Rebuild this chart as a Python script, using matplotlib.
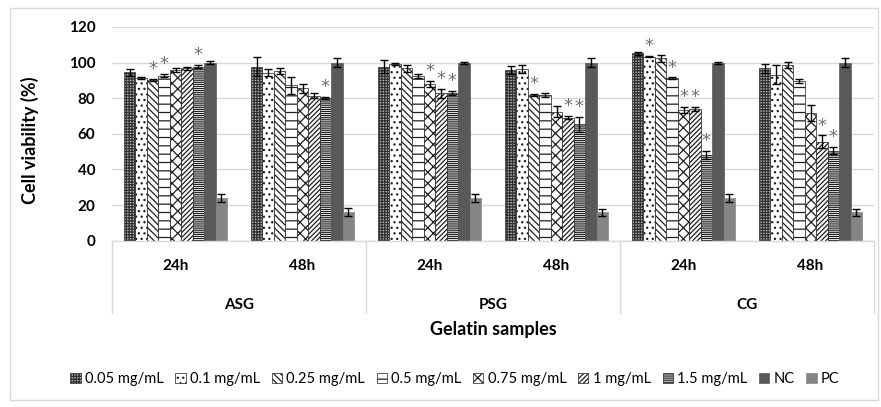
import matplotlib
matplotlib.use("Agg")
import matplotlib.pyplot as plt
import numpy as np
from matplotlib.patches import Rectangle

plt.rcParams['font.family'] = ['Lato', 'DejaVu Sans']
plt.rcParams['hatch.linewidth'] = 0.9

samples = ["ASG", "PSG", "CG"]
times = ["24h", "48h"]
series = ["0.05 mg/mL", "0.1 mg/mL", "0.25 mg/mL", "0.5 mg/mL", "0.75 mg/mL",
          "1 mg/mL", "1.5 mg/mL", "NC", "PC"]

# values per group (ASG24, ASG48, PSG24, PSG48, CG24, CG48), one list per series
v005 = [94.5, 97.8, 97.8, 95.9, 105.3, 96.8]
v01 = [91.2, 94.4, 99.1, 96.3, 103.4, 93.1]
v025 = [90.3, 95.3, 96.8, 81.9, 102.4, 98.7]
v05 = [92.7, 87.3, 92.5, 81.9, 91.2, 89.7]
v075 = [95.9, 85.5, 88.0, 72.5, 73.4, 71.6]
v1 = [96.8, 81.5, 82.8, 69.1, 73.8, 55.6]
v15 = [97.8, 80.0, 83.0, 65.4, 48.1, 50.6]
vNC = [100.0, 100.0, 100.0, 100.0, 100.0, 100.0]
vPC = [24.0, 16.0, 24.0, 16.0, 24.0, 16.0]

e005 = [1.9, 5.4, 3.4, 2.4, 0.8, 2.6]
e01 = [0.5, 2.0, 0.6, 2.3, 0.5, 5.3]
e025 = [0.5, 1.9, 2.0, 0.5, 1.8, 1.5]
e05 = [0.7, 4.7, 1.0, 1.0, 0.5, 1.0]
e075 = [1.2, 2.5, 1.5, 3.2, 1.8, 4.4]
e1 = [1.0, 1.5, 2.5, 1.0, 1.2, 3.5]
e15 = [0.8, 0.5, 1.0, 4.1, 2.4, 1.9]
eNC = [0.8, 2.6, 0.6, 2.6, 0.6, 2.6]
ePC = [2.0, 2.2, 2.0, 2.0, 2.0, 2.0]

# significance flags (1 = asterisk)
s005 = [0, 0, 0, 0, 0, 0]
s01 = [0, 0, 0, 0, 1, 0]
s025 = [1, 0, 0, 1, 0, 0]
s05 = [1, 0, 0, 0, 1, 0]
s075 = [0, 0, 1, 0, 1, 0]
s1 = [0, 0, 1, 1, 1, 1]
s15 = [1, 1, 1, 1, 1, 1]
sNC = [0] * 6
sPC = [0] * 6

values = [v005, v01, v025, v05, v075, v1, v15, vNC, vPC]
errors = [e005, e01, e025, e05, e075, e1, e15, eNC, ePC]
stars = [s005, s01, s025, s05, s075, s1, s15, sNC, sPC]

styles = [
    dict(facecolor="#b4b4b4", hatch="++++++", edgecolor="#303030"),
    dict(facecolor="white", hatch="...", edgecolor="#202020"),
    dict(facecolor="white", hatch="\\\\\\\\\\", edgecolor="#202020"),
    dict(facecolor="white", hatch="--", edgecolor="#202020"),
    dict(facecolor="white", hatch="xxx", edgecolor="#202020"),
    dict(facecolor="white", hatch="///////", edgecolor="#202020"),
    dict(facecolor="white", hatch="--------", edgecolor="#202020"),
    dict(facecolor="#595959", hatch=None, edgecolor="#595959"),
    dict(facecolor="#858585", hatch=None, edgecolor="#858585"),
]

fig = plt.figure(figsize=(8.81, 4.07), dpi=100)
ax = fig.add_axes([112 / 881, 1 - 240.7 / 407, (874 - 112) / 881, (240.7 - 27) / 407])

ngroups = 6
nser = len(series)
bw = 0.09
centers = np.arange(ngroups) + 0.5
for k in range(nser):
    xs = centers + (k - (nser - 1) / 2) * bw
    st = styles[k]
    ax.bar(xs, values[k], width=bw, facecolor=st["facecolor"], hatch=st["hatch"],
           edgecolor=st["edgecolor"], linewidth=0.5, label=series[k], zorder=2)
    ax.errorbar(xs, values[k], yerr=errors[k], fmt="none", ecolor="black",
                elinewidth=1.0, capsize=3, capthick=1.0, zorder=3)
    for i in range(ngroups):
        if stars[k][i]:
            ax.text(xs[i], values[k][i] + errors[k][i] + 0.5, "*", ha="center",
                    va="bottom", fontsize=13, color="#707070", zorder=4,
                    family="DejaVu Sans")

ax.set_xlim(0, 6)
ax.set_ylim(0, 120)
ax.set_yticks(np.arange(0, 121, 20))
ax.set_yticklabels([str(t) for t in range(0, 121, 20)], fontsize=11, fontweight="bold")
ax.tick_params(axis="y", length=0, pad=12)
ax.set_xticks([])
ax.grid(axis="y", color="#d9d9d9", linewidth=1, zorder=0)
ax.set_axisbelow(True)
for sp in ["top", "right", "left"]:
    ax.spines[sp].set_visible(False)
ax.spines["bottom"].set_color("#d9d9d9")
ax.spines["bottom"].set_linewidth(1)

# multi-level category axis
for xsep in [0, 2, 4, 6]:
    ax.plot([xsep, xsep], [0, -40.6], color="#d9d9d9", lw=1, clip_on=False, zorder=1)
for i in range(ngroups):
    ax.text(centers[i], -14.2, times[i % 2], ha="center", va="center",
            fontsize=11, fontweight="bold")
for j, s in enumerate(samples):
    ax.text(2 * j + 1, -36, s, ha="center", va="center", fontsize=11, fontweight="bold")

fig.text(493 / 881, 1 - 330 / 407, "Gelatin samples", ha="center", va="center",
         fontsize=13, fontweight="bold")
fig.text(30 / 881, 1 - 140 / 407, "Cell viability (%)", ha="center", va="center",
         rotation=90, fontsize=13, fontweight="bold")

handles, labels = ax.get_legend_handles_labels()
fig.legend(handles, labels, loc="center", bbox_to_anchor=(455 / 881, 1 - 379 / 407),
           ncol=9, frameon=False, fontsize=10.5, handlelength=0.7, handleheight=0.7,
           handletextpad=0.3, columnspacing=0.8)

fig.add_artist(Rectangle((10 / 881, 1 - 400 / 407), 868 / 881, 392 / 407,
                         transform=fig.transFigure, fill=False,
                         edgecolor="#d9d9d9", linewidth=1))

fig.savefig("out.png", dpi=100)
